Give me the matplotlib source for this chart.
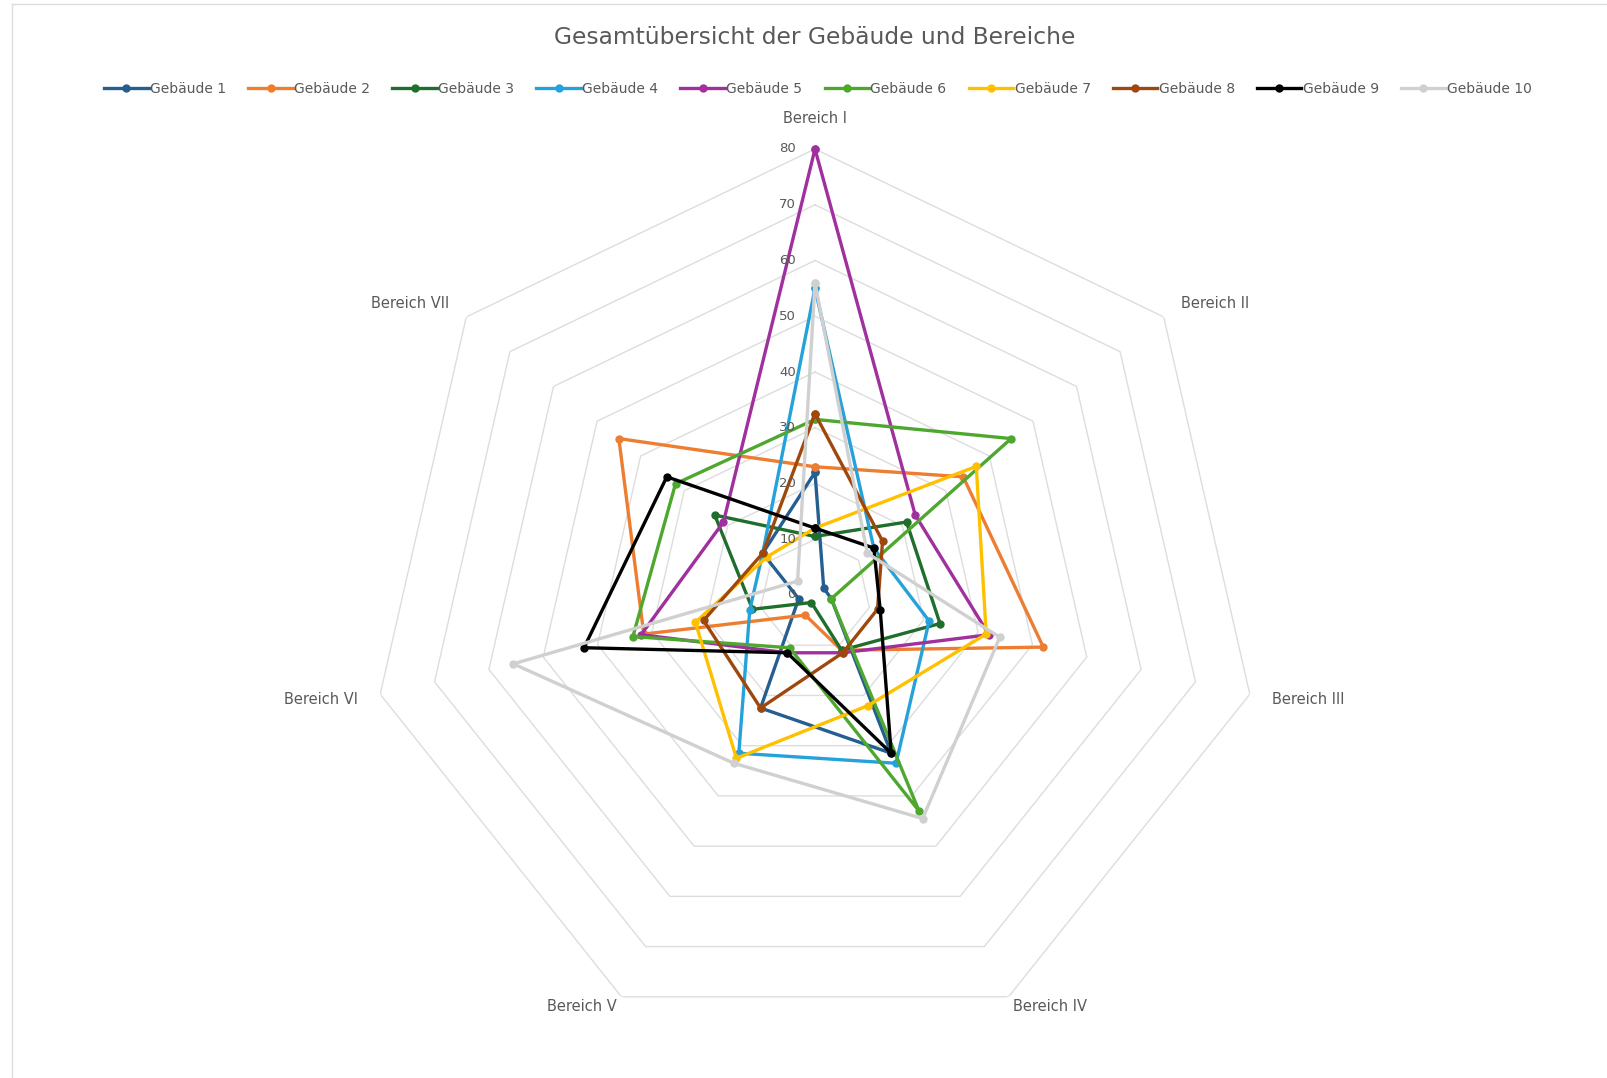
import numpy as np
import matplotlib.pyplot as plt
from matplotlib.lines import Line2D

# Bereiche (Achsen des Netzdiagramms)
categories = ["Bereich I", "Bereich II", "Bereich III", "Bereich IV",
              "Bereich V", "Bereich VI", "Bereich VII"]

# Werte je Gebäude
geb1 = [22, 2, 3, 31.5, 22.5, 3, 12]
geb2 = [23, 34, 42, 11, 4, 31.5, 45]
geb3 = [10.5, 21, 23, 11, 1.5, 11.5, 23]
geb4 = [55, 13.5, 21, 33.5, 31.5, 12, 12]
geb5 = [80, 23, 32, 11.5, 11.5, 32, 21]
geb6 = [31.5, 45, 3, 43, 10.5, 33.5, 32]
geb7 = [12, 37, 31.5, 22, 32.5, 22, 11]
geb8 = [32.5, 15.5, 11.5, 11.5, 22.5, 20.5, 12]
geb9 = [12, 13.5, 12, 31.5, 11.5, 42.5, 34]
geb10 = [56, 12, 34, 44.5, 33.5, 55.5, 4]

series = [geb1, geb2, geb3, geb4, geb5, geb6, geb7, geb8, geb9, geb10]
names = ["Gebäude %d" % i for i in range(1, 11)]
colors = ["#255E91", "#ED7D31", "#1F6E2B", "#26A2DA", "#A0309E",
          "#4EA72E", "#FFC000", "#9E480E", "#000000", "#D0D0D0"]

ticks = [0, 10, 20, 30, 40, 50, 60, 70, 80]
txt_col = "#595959"
grid_col = "#DDDDDD"

W, H = 1607, 1078
fig = plt.figure(figsize=(W / 100, H / 100), dpi=100)

# Mittelpunkt (815, 595) px, Radius 446 px
cx, cy, R = 815, 595, 446
ax = fig.add_axes([(cx - R) / W, (H - cy - R) / H, 2 * R / W, 2 * R / H],
                  projection="polar")
ax.set_theta_offset(np.pi / 2)
ax.set_theta_direction(-1)
ax.set_ylim(0, 80)
ax.set_xticks([])
ax.set_yticks([])
ax.grid(False)
ax.spines["polar"].set_visible(False)
ax.patch.set_visible(False)

n = len(categories)
angles = np.arange(n) * 2 * np.pi / n
closed = np.append(angles, angles[0])

# Siebeneck-Gitter
for v in ticks[1:]:
    ax.plot(closed, [v] * (n + 1), color=grid_col, lw=1, zorder=0)

for vals, name, c in zip(series, names, colors):
    ax.plot(closed, vals + vals[:1], color=c, lw=2.4, marker="o", ms=5,
            label=name, zorder=2, clip_on=False)

# Skalenbeschriftung an der Achse Bereich I
for v in ticks:
    ax.annotate(str(v), xy=(0, v), xytext=(-19, 0), textcoords="offset pixels",
                ha="right", va="center", fontsize=9.5, color=txt_col)

# Kategorienbeschriftung
for a, lab in zip(angles, categories):
    dx, dy = np.sin(a), np.cos(a)
    r = 84
    if dy > 0.95:
        r = 85.5
    elif dy < -0.8:
        r = 82
    if abs(dx) < 0.1:
        ha = "center"
    elif dx > 0:
        ha = "left"
    else:
        ha = "right"
    ax.text(a, r, lab, ha=ha, va="center", fontsize=10.5, color=txt_col)

fig.text(0.507, 1 - 37 / H, "Gesamtübersicht der Gebäude und Bereiche",
         ha="center", va="center", fontsize=16.8, color=txt_col)

fig.legend(loc="center", bbox_to_anchor=(0.509, 1 - 89 / H), ncol=10,
           frameon=False, fontsize=10, handlelength=3.2, handletextpad=0.1,
           columnspacing=1.6, labelcolor=txt_col)

# Rahmen des Diagrammbereichs
fig.add_artist(Line2D([12 / W, 12 / W], [0, 1 - 4 / H], color=grid_col, lw=1))
fig.add_artist(Line2D([12 / W, 1], [1 - 4 / H, 1 - 4 / H], color=grid_col, lw=1))

fig.savefig("out.png", dpi=100)
